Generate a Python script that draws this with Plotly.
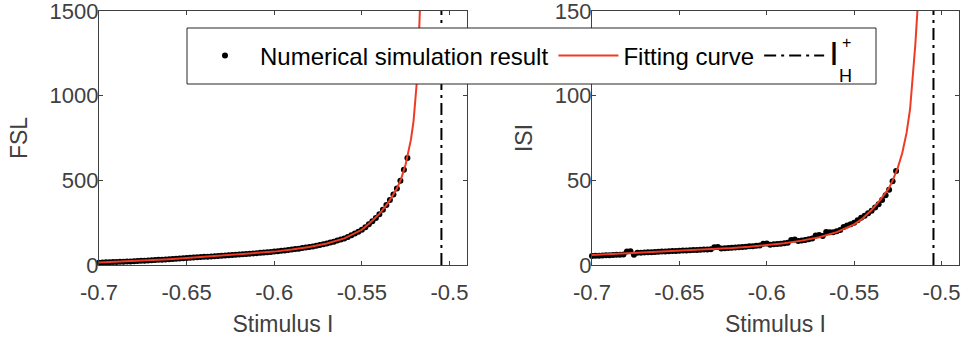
import plotly.graph_objects as go

# ---------------- data ----------------
I_H_plus = -0.5046

# simulation (FSL), stimulus step 0.002 from -0.700 to -0.524
sim_I_fsl = [round(-0.700 + 0.002 * k, 3) for k in range(89)]
sim_FSL = [14, 14.8, 15.6, 16.4, 17.2, 18, 18.8, 19.6, 20.4, 21.2,
           22, 23.2, 24.4, 25.6, 26.8, 28, 29.2, 30.4, 31.6, 32.8,
           34, 35.4, 36.8, 38.2, 39.6, 41, 42.4, 43.8, 45.2, 46.6,
           48, 49.4, 50.8, 52.2, 53.6, 55, 56.4, 57.8, 59.2, 60.6,
           62, 63.6, 65.2, 66.8, 68.4, 70, 71.7, 73.5, 75.3, 77.1,
           79, 81.3, 83.6, 86, 88.5, 91, 93.8, 96.7, 99.7, 102.8,
           106, 109.8, 113.8, 118, 122.4, 127, 132.4, 138, 144, 150.3,
           157, 166, 175.5, 185.5, 196.5, 208, 223, 240, 258, 278,
           300, 326, 354, 384, 416, 452, 497, 562, 632]

# fitting curve (FSL)
fit_I_fsl = [-0.700, -0.690, -0.680, -0.670, -0.660, -0.650, -0.640, -0.630,
             -0.620, -0.610, -0.600, -0.590, -0.580, -0.570, -0.560, -0.550,
             -0.545, -0.540, -0.535, -0.530, -0.5275, -0.525, -0.5235, -0.522,
             -0.5205, -0.5195, -0.5188, -0.518, -0.5175, -0.517, -0.5165]
fit_FSL = [15, 19, 23, 28, 34, 41, 48, 55, 62, 70, 79, 91, 106, 127, 157, 208,
           252, 302, 367, 452, 512, 595, 660, 740, 850, 960, 1060, 1180, 1290,
           1440, 1620]

# simulation (ISI), stimulus step 0.002 from -0.700 to -0.526
sim_I_isi = [round(-0.700 + 0.002 * k, 3) for k in range(88)]
sim_ISI = [5.3, 5.4, 5.5, 5.6, 5.7, 5.8, 5.9, 6.0, 6.1, 6.2,
           8.0, 8.1, 6.0, 7.2, 7.3, 7.4, 7.5, 7.6, 7.7, 7.8,
           7.9, 8.0, 8.1, 8.2, 8.3, 8.4, 8.5, 8.6, 8.7, 8.8,
           8.9, 9.0, 9.1, 9.2, 9.3, 10.5, 10.6, 9.7, 9.9, 10.1,
           10.2, 10.4, 10.5, 10.7, 10.8, 11.0, 11.1, 11.3, 11.5, 12.5,
           12.7, 12.0, 12.2, 12.4, 12.6, 12.9, 13.1, 14.8, 15.0, 14.2,
           14.5, 14.8, 15.2, 15.6, 17.4, 17.7, 17.1, 19.5, 19.4, 19.3,
           19.9, 20.7, 22.4, 23.3, 24.1, 25.0, 26.4, 27.9, 29.1, 30.5,
           32.1, 33.9, 35.9, 38.4, 41.2, 44.5, 49.5, 55.5]

# fitting curve (ISI)
fit_I_isi = [-0.700, -0.690, -0.680, -0.670, -0.660, -0.650, -0.640, -0.630,
             -0.620, -0.610, -0.600, -0.590, -0.580, -0.570, -0.560, -0.550,
             -0.545, -0.540, -0.535, -0.530, -0.5275, -0.525, -0.5225, -0.520,
             -0.518, -0.5165, -0.515, -0.5138, -0.513]
fit_ISI = [5.9, 6.4, 6.8, 7.2, 7.7, 8.2, 8.7, 9.3, 10.0, 10.8, 11.7, 12.9, 14.4,
           16.4, 19.4, 24.0, 27.6, 32.5, 38.5, 45.5, 51, 57.5, 66, 78, 92, 110,
           130, 150, 165]

x_ticks = [-0.7, -0.65, -0.6, -0.55, -0.5]
x_ticktext = ["-0.7", "-0.65", "-0.6", "-0.55", "-0.5"]
fsl_ticks = [0, 500, 1000, 1500]
isi_ticks = [0, 50, 100, 150]

# ---------------- style ----------------
W, H = 964, 341
ML, MR, MT, MB = 99, 5, 11, 76
PW, PH = W - ML - MR, H - MT - MB
AX = "#404040"
RED = "#EE3B24"
FONT = "Liberation Sans, Arial, sans-serif"
DASHDOT = "12px,5px,3px,5px"


def px_x(p):
    return (p - ML) / PW


def px_y(p):
    return (H - MB - p) / PH


fig = go.Figure()

fig.add_trace(go.Scatter(x=sim_I_fsl, y=sim_FSL, mode="markers",
                         marker=dict(color="black", size=6),
                         name="Numerical simulation result", cliponaxis=False,
                         xaxis="x", yaxis="y"))
fig.add_trace(go.Scatter(x=fit_I_fsl, y=fit_FSL, mode="lines",
                         line=dict(color=RED, width=2),
                         name="Fitting curve", xaxis="x", yaxis="y"))
fig.add_trace(go.Scatter(x=[I_H_plus, I_H_plus], y=[0, 1500], mode="lines",
                         line=dict(color="black", width=2, dash=DASHDOT),
                         name='<span style="font-size:34px">I</span>',
                         xaxis="x", yaxis="y"))

fig.add_trace(go.Scatter(x=sim_I_isi, y=sim_ISI, mode="markers",
                         marker=dict(color="black", size=6), cliponaxis=False,
                         showlegend=False, xaxis="x2", yaxis="y2"))
fig.add_trace(go.Scatter(x=fit_I_isi, y=fit_ISI, mode="lines",
                         line=dict(color=RED, width=2),
                         showlegend=False, xaxis="x2", yaxis="y2"))
fig.add_trace(go.Scatter(x=[I_H_plus, I_H_plus], y=[0, 150], mode="lines",
                         line=dict(color="black", width=2, dash=DASHDOT),
                         showlegend=False, xaxis="x2", yaxis="y2"))

axis_common = dict(showline=True, linecolor=AX, linewidth=1.2, mirror="ticks",
                   ticks="inside", ticklen=4, tickwidth=1.2, tickcolor=AX,
                   showgrid=False, zeroline=False, automargin=False,
                   ticklabeloverflow="allow",
                   tickfont=dict(family=FONT, size=22, color=AX))
title_font = dict(family=FONT, size=23, color=AX)

xcommon = dict(axis_common, range=[-0.7, -0.49], tickvals=x_ticks,
               ticktext=x_ticktext, ticklabelstandoff=7)
ycommon = dict(axis_common, domain=[0, 1], ticklabelstandoff=-5)

fig.update_layout(
    width=W, height=H,
    margin=dict(l=ML, r=MR, t=MT, b=MB),
    paper_bgcolor="white", plot_bgcolor="white",
    xaxis=dict(xcommon, domain=[0, px_x(467)], anchor="y",
               title=dict(text="Stimulus I", font=title_font, standoff=12)),
    yaxis=dict(ycommon, range=[0, 1500], tickvals=fsl_ticks, anchor="x",
               title=dict(text="FSL", font=title_font, standoff=15)),
    xaxis2=dict(xcommon, domain=[px_x(592), 1], anchor="y2",
                title=dict(text="Stimulus I", font=title_font, standoff=12)),
    yaxis2=dict(ycommon, range=[0, 150], tickvals=isi_ticks, anchor="x2",
                title=dict(text="ISI", font=title_font, standoff=15)),
    showlegend=True,
    legend=dict(orientation="h", x=px_x(190), xanchor="left",
                y=px_y(56), yanchor="middle",
                bgcolor="rgba(0,0,0,0)", borderwidth=0, itemwidth=60,
                font=dict(family=FONT, size=24, color="black")),
    shapes=[dict(type="rect", xref="paper", yref="paper",
                 x0=px_x(187), x1=px_x(876), y0=px_y(84), y1=px_y(28),
                 fillcolor="white", line=dict(color="#262626", width=1),
                 layer="above")],
    annotations=[
        dict(text="+", xref="paper", yref="paper", x=px_x(853), y=px_y(32),
             showarrow=False, font=dict(family=FONT, size=16, color="black")),
        dict(text="H", xref="paper", yref="paper", x=px_x(854), y=px_y(64),
             showarrow=False, font=dict(family=FONT, size=18, color="black")),
    ],
)

fig.write_html("out.html")
